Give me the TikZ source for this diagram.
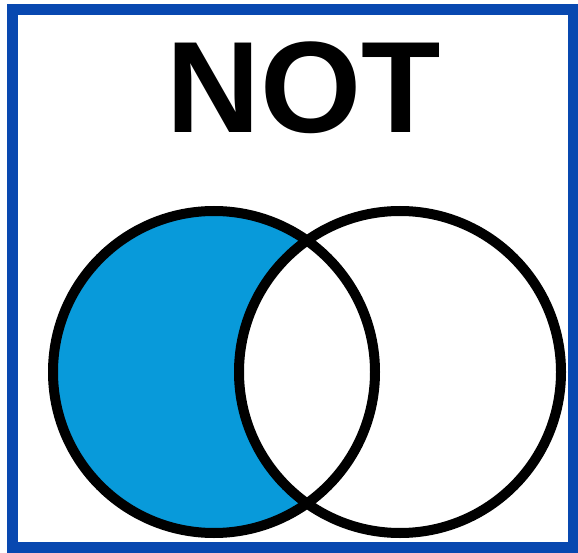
\documentclass[tikz,border=0pt]{standalone}
\usepackage{fontspec}
\setmainfont{Liberation Sans}
\usepackage{tikz}
\definecolor{frameblue}{RGB}{8,72,176}
\definecolor{setblue}{RGB}{8,154,218}

\begin{document}
\begin{tikzpicture}[x=1pt,y=-1pt]
    \useasboundingbox (0,0) rectangle (578,553);
    % Outer frame
    \draw[frameblue,line width=11pt] (12,10) rectangle (573,547);
    % Title
    \node[anchor=base,inner sep=0pt] (title) at (303.5,133)
        {\fontsize{130}{130}\selectfont\bfseries NOT};
    % Left set minus the overlap
    \fill[setblue] (214,372) circle (161);
    \begin{scope}
        \clip (214,372) circle (161);
        \fill[white] (400,372) circle (161);
    \end{scope}
    % Outlines of the two sets
    \draw[line width=10pt] (214,372) circle (161);
    \draw[line width=10pt] (400,372) circle (161);
\end{tikzpicture}
\end{document}
